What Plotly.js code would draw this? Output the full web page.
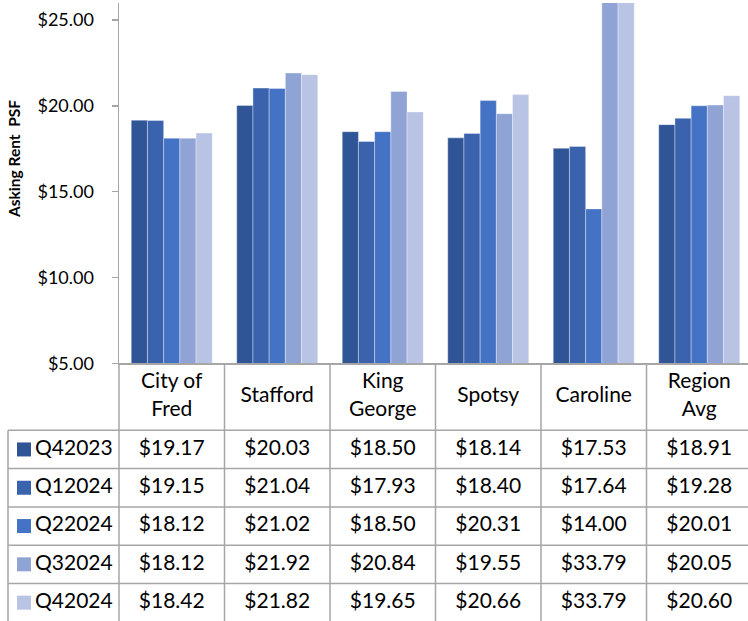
<!DOCTYPE html>
<html>
<head>
<meta charset="utf-8">
<script src="https://cdn.plot.ly/plotly-3.0.1.min.js"></script>
<style>html,body{margin:0;padding:0;background:#fff;}#chart{width:748px;height:621px;}</style>
</head>
<body>
<div id="chart"></div>
<script>
// ---- data ----
const categories = ["City of Fred", "Stafford", "King George", "Spotsy", "Caroline", "Region Avg"];
const categoryLabels = ["City of<br>Fred", "Stafford", "King<br>George", "Spotsy", "Caroline", "Region<br>Avg"];
const seriesNames = ["Q42023", "Q12024", "Q22024", "Q32024", "Q42024"];
const q42023 = [19.17, 20.03, 18.50, 18.14, 17.53, 18.91];
const q12024 = [19.15, 21.04, 17.93, 18.40, 17.64, 19.28];
const q22024 = [18.12, 21.02, 18.50, 20.31, 14.00, 20.01];
const q32024 = [18.12, 21.92, 20.84, 19.55, 33.79, 20.05];
const q42024 = [18.42, 21.82, 19.65, 20.66, 33.79, 20.60];
const seriesValues = [q42023, q12024, q22024, q32024, q42024];
const seriesColors = ["#2F5597", "#3B63AD", "#4472C4", "#8FA4D5", "#B9C3E3"];

// ---- geometry (pixels) ----
const W = 748, H = 621;
const axisX = 119;           // y-axis line position
const colW = 105.5;          // width of one category column
const plotTop = 3, plotBottom = 363.3;
const legendColW = 111;      // width of the legend column in the table
const headerH = 67, rowH = 38.3;

const xRangeRight = -0.5 + (W - axisX) / colW;
const x2Left = -0.5 - 1.1;   // a bit of room left of the table
const x2DomainLeft = (axisX - 1.1 * colW) / W;
const legendLeft = -0.5 - legendColW / colW;
const headerUnits = headerH / rowH;
const y2Top = -0.5 - headerUnits;
const y2Bottom = y2Top + (H - plotBottom) / rowH;

const font = "Lato, 'Open Sans', sans-serif";
const gridColor = "#A6A6A6";

const traces = [];
// bars
seriesNames.forEach((name, i) => {
  traces.push({
    type: "bar", name: name, x: categories, y: seriesValues[i],
    xaxis: "x", yaxis: "y",
    marker: {color: seriesColors[i], line: {color: "rgba(255,255,255,0.35)", width: 1}},
    hoverinfo: "x+y+name"
  });
});

// table header
traces.push({
  type: "scatter", mode: "text", xaxis: "x2", yaxis: "y2",
  x: categories.map((c, j) => j), y: categories.map(() => -0.5 - headerUnits / 2),
  text: categoryLabels, textposition: "middle center",
  textfont: {family: font, size: 21, color: "#000"}, hoverinfo: "skip", cliponaxis: false
});
// table rows
seriesNames.forEach((name, i) => {
  traces.push({
    type: "scatter", mode: "text", xaxis: "x2", yaxis: "y2",
    x: categories.map((c, j) => j), y: categories.map(() => i),
    text: seriesValues[i].map(v => "$" + v.toFixed(2)), textposition: "middle center",
    textfont: {family: font, size: 21, color: "#000"}, hoverinfo: "skip", cliponaxis: false
  });
  traces.push({
    type: "scatter", mode: "markers", xaxis: "x2", yaxis: "y2",
    x: [legendLeft + 16 / colW], y: [i],
    marker: {symbol: "square", size: 14, color: seriesColors[i], line: {width: 0}},
    hoverinfo: "skip", cliponaxis: false
  });
  traces.push({
    type: "scatter", mode: "text", xaxis: "x2", yaxis: "y2",
    x: [legendLeft + 27 / colW], y: [i],
    text: [name], textposition: "middle right",
    textfont: {family: font, size: 21, color: "#000"}, hoverinfo: "skip", cliponaxis: false
  });
});

// table grid lines
const shapes = [];
for (let c = 0; c <= categories.length; c++) {
  shapes.push({type: "line", xref: "x2", yref: "y2", x0: c - 0.5, x1: c - 0.5,
    y0: y2Top, y1: y2Bottom, line: {color: gridColor, width: 1.5}});
}
shapes.push({type: "line", xref: "x2", yref: "y2", x0: legendLeft, x1: legendLeft,
  y0: -0.5, y1: y2Bottom, line: {color: gridColor, width: 1.5}});
for (let r = 0; r < seriesNames.length; r++) {
  shapes.push({type: "line", xref: "x2", yref: "y2", x0: legendLeft, x1: categories.length - 0.5,
    y0: r - 0.5, y1: r - 0.5, line: {color: gridColor, width: 1.5}});
}

const layout = {
  width: W, height: H,
  margin: {l: 0, r: 0, t: 0, b: 0, pad: 0},
  paper_bgcolor: "#fff", plot_bgcolor: "rgba(0,0,0,0)",
  showlegend: false,
  barmode: "group", bargap: 0.232, bargroupgap: 0,
  font: {family: font, color: "#000"},
  xaxis: {
    domain: [axisX / W, 1], range: [-0.5, xRangeRight], type: "category",
    showticklabels: false, ticks: "", showgrid: false, zeroline: false,
    showline: true, linecolor: gridColor, linewidth: 1.5, anchor: "y", fixedrange: true
  },
  yaxis: {
    domain: [1 - plotBottom / H, 1 - plotTop / H], range: [5, 26],
    tick0: 5, dtick: 5, tickformat: "$.2f",
    ticks: "outside", ticklen: 6, tickcolor: gridColor, tickwidth: 1.5,
    ticklabelstandoff: 14,
    tickfont: {family: font, size: 18, color: "#000"},
    showgrid: false, zeroline: false, showline: true, linecolor: gridColor, linewidth: 1.5,
    anchor: "x", fixedrange: true
  },
  xaxis2: {
    domain: [x2DomainLeft, 1], range: [x2Left, xRangeRight],
    visible: false, anchor: "y2", fixedrange: true
  },
  yaxis2: {
    domain: [0, 1 - plotBottom / H], range: [y2Bottom, y2Top],
    visible: false, anchor: "x2", fixedrange: true
  },
  annotations: [{
    text: "<b>Asking Rent\u00a0 PSF</b>", textangle: -90,
    xref: "paper", yref: "paper", x: 14 / W, y: 1 - 159 / H,
    xanchor: "center", yanchor: "middle", showarrow: false,
    font: {family: font, size: 15.5, color: "#000"}
  }],
  shapes: shapes
};

Plotly.newPlot("chart", traces, layout, {displayModeBar: false, staticPlot: true});
</script>
</body>
</html>
